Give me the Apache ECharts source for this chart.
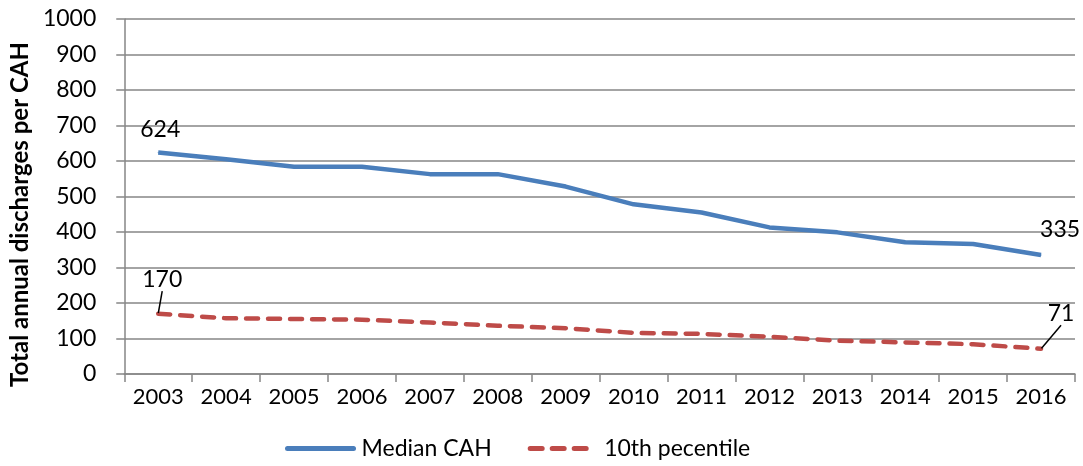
<!DOCTYPE html>
<html><head><meta charset="utf-8">
<script src="https://cdn.jsdelivr.net/npm/echarts@6/dist/echarts.min.js"></script>
<style>html,body{margin:0;padding:0;background:#fff}#c{width:1083px;height:466px}</style>
</head><body><div id="c"></div>
<script>
const years = ['2003','2004','2005','2006','2007','2008','2009','2010','2011','2012','2013','2014','2015','2016'];
const medianCAH = [624, 605, 584, 584, 563, 563, 528, 478, 455, 413, 399, 371, 366, 335];
const pct10 = [170, 157, 155, 153, 145, 136, 129, 116, 113, 105, 94, 89, 84, 71];
const yTicks = [0, 100, 200, 300, 400, 500, 600, 700, 800, 900, 1000];

const FONT = 'Lato';
const chart = echarts.init(document.getElementById('c'));
function endLabels(arr, first, last) {
  return arr.map((v, i) => {
    if (i === 0) return {value: v, symbol: 'circle', symbolSize: 1, label: Object.assign({show: true}, first)};
    if (i === arr.length - 1) return {value: v, symbol: 'circle', symbolSize: 1, label: Object.assign({show: true}, last)};
    return v;
  });
}
chart.setOption({
  animation: false,
  textStyle: {fontFamily: FONT},
  grid: {left: 123, right: 8, top: 19, bottom: 92},
  legend: {
    bottom: 1, left: 280, itemWidth: 66, itemHeight: 14, itemGap: 36,
    itemStyle: {opacity: 0},
    lineStyle: {width: 5, cap: 'round'},
    textStyle: {fontSize: 23, color: '#000', fontFamily: FONT, padding: [0, 0, 0, 3]},
    data: ['Median CAH', '10th pecentile']
  },
  xAxis: {
    type: 'category', data: years, boundaryGap: true,
    axisLine: {lineStyle: {color: '#868686', width: 1.5}},
    axisTick: {show: true, alignWithLabel: false, interval: 0, length: 8, lineStyle: {color: '#868686', width: 1.5}},
    axisLabel: {fontSize: 22, color: '#000', margin: 12, interval: 0, fontFamily: FONT}
  },
  yAxis: {
    type: 'value', min: yTicks[0], max: yTicks[yTicks.length - 1], interval: 100,
    name: 'Total annual discharges per CAH', nameLocation: 'middle', nameGap: 88,
    nameTextStyle: {fontSize: 24, fontWeight: 'bold', color: '#000', fontFamily: FONT, padding: [0, 36, 0, 0]},
    axisLine: {show: true, lineStyle: {color: '#868686', width: 1.5}},
    axisTick: {show: true, length: 8, lineStyle: {color: '#868686', width: 1.5}},
    axisLabel: {fontSize: 23, color: '#000', margin: 28, fontFamily: FONT, formatter: v => String(v)},
    splitLine: {lineStyle: {color: '#868686', width: 1.5}}
  },
  series: [
    {
      name: 'Median CAH', type: 'line', symbol: 'none',
      lineStyle: {color: '#4A7EBB', width: 4.5},
      itemStyle: {color: '#4A7EBB'},
      label: {fontSize: 23, color: '#000', fontFamily: FONT},
      data: endLabels(medianCAH,
        {position: 'top', offset: [2, -6]},
        {position: 'top', offset: [19, -8]})
    },
    {
      name: '10th pecentile', type: 'line', symbol: 'none',
      lineStyle: {color: '#BE4B48', width: 4.5, type: [12, 10], cap: 'round'},
      itemStyle: {color: '#BE4B48'},
      label: {fontSize: 23, color: '#000', fontFamily: FONT},
      labelLine: {show: true, lineStyle: {color: '#000', width: 1.5}},
      labelLayout: function (params) {
        if (params.dataIndex === 0) return {dx: 4, dy: -22};
        return {dx: 20, dy: -23};
      },
      data: endLabels(pct10,
        {position: 'top', distance: 0},
        {position: 'top', distance: 0})
    }
  ]
});
</script></body></html>
